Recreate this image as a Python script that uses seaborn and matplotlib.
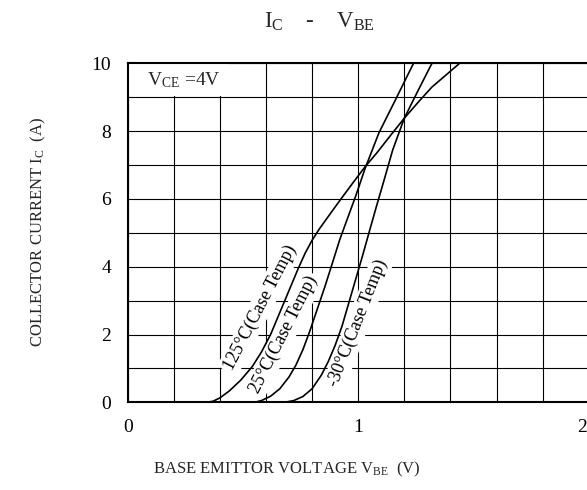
import numpy as np
import pandas as pd
import matplotlib
matplotlib.use("Agg")
import matplotlib.pyplot as plt
import matplotlib.transforms as mtransforms
import seaborn as sns
from matplotlib.patches import Rectangle

# ---- data ----
v125 = [0.34, 0.37, 0.40, 0.44, 0.49, 0.54, 0.58, 0.62, 0.66, 0.70, 0.74, 0.77, 0.80, 0.83, 0.87,
        0.92, 0.98, 1.03, 1.08, 1.14, 1.20, 1.26, 1.32, 1.38, 1.44]
i125 = [0.00, 0.03, 0.13, 0.33, 0.65, 1.05, 1.48, 2.00, 2.65, 3.30, 3.95, 4.40, 4.78, 5.10, 5.48,
        5.95, 6.50, 6.95, 7.35, 7.87, 8.38, 8.85, 9.30, 9.65, 10.0]

v25 = [0.55, 0.58, 0.62, 0.66, 0.70, 0.73, 0.76, 0.79, 0.82, 0.855, 0.89, 0.92, 0.955, 0.99,
       1.03, 1.09, 1.16, 1.24]
i25 = [0.00, 0.05, 0.18, 0.40, 0.75, 1.10, 1.55, 2.10, 2.70, 3.40, 4.15, 4.80, 5.45, 6.10,
       6.90, 7.95, 8.90, 10.0]

vm30 = [0.68, 0.72, 0.76, 0.80, 0.84, 0.87, 0.90, 0.93, 0.96, 0.99, 1.02, 1.05, 1.08, 1.11,
        1.15, 1.20, 1.26, 1.32]
im30 = [0.00, 0.05, 0.17, 0.40, 0.80, 1.20, 1.68, 2.25, 2.95, 3.65, 4.35, 5.08, 5.80, 6.50,
        7.45, 8.38, 9.20, 10.0]

series_names = ["125°C(Case Temp)", "25°C(Case Temp)", "-30°C(Case Temp)"]
x_major = [0, 1, 2]
y_major = [0, 2, 4, 6, 8, 10]

df = pd.concat([
    pd.DataFrame({"vbe": v125, "ic": i125, "temp": series_names[0]}),
    pd.DataFrame({"vbe": v25, "ic": i25, "temp": series_names[1]}),
    pd.DataFrame({"vbe": vm30, "ic": im30, "temp": series_names[2]}),
])

sns.set_theme(style="white")
plt.rcParams["font.family"] = ["Liberation Serif", "DejaVu Serif"]
plt.rcParams["mathtext.fontset"] = "custom"
plt.rcParams["mathtext.rm"] = "Liberation Serif"
plt.rcParams["mathtext.it"] = "Liberation Serif"
plt.rcParams["mathtext.bf"] = "Liberation Serif"

W, H = 587, 490
fig = plt.figure(figsize=(W / 100, H / 100), dpi=100)
fig.patch.set_facecolor("white")
L, R, T, B = 127.7, 588.7, 63.3, 402.3
ax = fig.add_axes([L / W, 1 - B / H, (R - L) / W, (B - T) / H])

sns.lineplot(data=df, x="vbe", y="ic", hue="temp", palette=["black"] * 3,
             sort=False, estimator=None, legend=False, ax=ax,
             linewidth=1.2, zorder=3)

ax.set_xlim(0, 2)
ax.set_ylim(0, 10)
ax.set_xticks(x_major)
ax.set_xticklabels([str(v) for v in x_major])
ax.set_yticks(y_major)
ax.set_yticklabels([str(v) for v in y_major])
ax.set_xticks(np.arange(0, 2.001, 0.2), minor=True)
ax.set_yticks(np.arange(0, 10.001, 1), minor=True)
ax.set_axisbelow(True)
ax.grid(which="both", color="black", linewidth=0.8)
ax.tick_params(which="both", length=0, labelsize=14, pad=12, colors="black")
ax.set_xlabel("")
ax.set_ylabel("")
ax.set_facecolor("white")
for side in ["left", "bottom", "top"]:
    ax.spines[side].set_visible(True)
    ax.spines[side].set_color("black")
    ax.spines[side].set_linewidth(1.5)
ax.spines["right"].set_visible(False)

# curve labels with white (rotated) boxes, drawn under the curves
lab_kw = dict(fontsize=13, ha="center", va="center", rotation_mode="anchor", zorder=2.5,
              color="black", bbox=dict(facecolor="white", edgecolor="none", pad=2))
ax.text(0.575, 2.80, series_names[0], rotation=62.5, **lab_kw)
ax.text(0.678, 2.00, series_names[1], rotation=63, **lab_kw)
ax.text(0.998, 2.33, series_names[2], rotation=68.5, **lab_kw)
vce = ax.text(0.085, 9.5, r"V$_{\mathrm{CE}}$ =4V", fontsize=14, ha="left", va="center", zorder=4)

# white box behind V_CE label
fig.canvas.draw()
renderer = fig.canvas.get_renderer()
inv = ax.transData.inverted()
bb = vce.get_window_extent(renderer)
(x0, y0), (x1, y1) = inv.transform([[bb.x0 - 20, bb.y0 - 6], [bb.x1 + 8, bb.y1 + 6]])
x0 = max(x0, 0.005)
y0 = max(y0, 9.03)
y1 = min(y1, 9.97)
ax.add_patch(Rectangle((x0, y0), x1 - x0, y1 - y0, facecolor="white", edgecolor="none", zorder=1.5))

fig.text(319 / W, 1 - 22 / H, r"I$_{\mathrm{C}}$    -    V$_{\mathrm{BE}}$", fontsize=16.5,
         ha="center", va="center")
fig.text(287 / W, 1 - 469 / H, r"BASE EMITTOR VOLTAGE V$_{\mathrm{BE}}$  (V)", fontsize=12,
         ha="center", va="center")
fig.text(38 / W, 1 - 232 / H, r"COLLECTOR CURRENT I$_{\mathrm{C}}$  (A)", fontsize=12,
         ha="center", va="center", rotation=90)

# keep the last x tick label inside the figure
lab2 = ax.get_xticklabels()[2]
lab2.set_ha("right")
lab2.set_transform(lab2.get_transform() + mtransforms.ScaledTranslation(-2 / 100, 0, fig.dpi_scale_trans))

fig.savefig("out.png", dpi=100, facecolor="white")
